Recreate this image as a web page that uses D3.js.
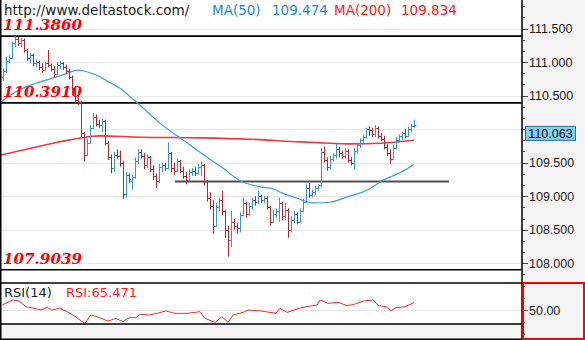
<!DOCTYPE html>
<html>
<head>
<meta charset="utf-8">
<script src="https://cdn.jsdelivr.net/npm/d3@7"></script>
<style>
  html, body { margin: 0; padding: 0; background: #fff; }
  svg { display: block; }
</style>
</head>
<body>
<svg id="chart" width="585" height="340"></svg>
<script>
// ---- daily OHLC bars ----
const opens = [110.78,110.86,111.02,111.06,111.28,111.34,111.28,111.33,111.18,111.06,
  111.10,110.98,111.00,110.92,110.88,110.98,110.96,110.90,110.82,110.96,
  110.98,110.92,110.86,110.78,110.62,110.44,110.40,109.94,109.62,109.80,
  110.02,110.18,110.08,110.06,110.12,109.80,109.58,109.42,109.62,109.60,
  109.50,109.04,109.32,109.22,109.28,109.52,109.66,109.60,109.46,109.58,
  109.40,109.30,109.22,109.44,109.46,109.42,109.64,109.42,109.38,109.52,
  109.38,109.30,109.24,109.36,109.38,109.34,109.44,109.46,109.22,108.98,
  108.86,108.56,108.84,108.94,108.78,108.50,108.34,108.62,108.56,108.52,
  108.72,108.90,108.74,108.86,108.94,108.92,109.00,108.94,108.98,108.84,
  108.62,108.74,108.78,108.90,108.70,108.80,108.50,108.64,108.74,108.62,
  108.78,108.92,109.12,109.02,109.06,109.12,109.16,109.66,109.54,109.44,
  109.56,109.62,109.70,109.64,109.60,109.68,109.54,109.50,109.68,109.76,
  109.84,109.88,110.00,109.98,109.92,110.02,109.90,109.86,109.74,109.64,
  109.56,109.72,109.84,109.90,109.94,109.90,110.00,110.04];
const highs = [110.90,111.08,111.10,111.30,111.386,111.38,111.36,111.35,111.20,111.14,
  111.12,111.04,111.02,110.98,111.00,111.18,110.98,110.94,111.00,111.02,
  111.00,110.96,110.90,110.80,110.64,110.52,110.42,109.96,109.86,110.06,
  110.24,110.22,110.14,110.16,110.14,109.82,109.62,109.66,109.70,109.68,
  109.52,109.36,109.34,109.32,109.58,109.70,109.70,109.64,109.62,109.60,
  109.46,109.34,109.48,109.50,109.50,109.80,109.66,109.50,109.56,109.54,
  109.44,109.36,109.40,109.42,109.44,109.48,109.52,109.48,109.24,109.06,
  108.94,108.90,108.98,109.08,108.80,108.56,108.78,108.66,108.60,108.76,
  108.98,108.92,108.90,108.98,109.00,109.08,109.02,109.00,109.00,108.86,
  108.80,108.82,108.98,108.92,108.90,108.82,108.70,108.78,108.76,108.82,
  108.96,109.18,109.20,109.10,109.16,109.18,109.72,109.74,109.58,109.60,
  109.64,109.78,109.74,109.68,109.72,109.70,109.58,109.72,109.80,109.86,
  109.92,110.02,110.04,110.02,110.06,110.04,109.94,109.90,109.78,109.70,
  109.76,109.88,109.92,109.96,110.00,110.04,110.08,110.14];
const lows = [110.72,110.84,110.98,111.04,111.22,111.24,111.22,111.14,111.02,110.98,
  110.94,110.92,110.88,110.84,110.86,110.92,110.86,110.76,110.80,110.90,
  110.88,110.82,110.74,110.58,110.38,110.36,109.88,109.52,109.60,109.78,
  110.00,110.04,110.02,109.96,109.76,109.54,109.34,109.36,109.56,109.44,
  108.96,108.98,109.20,109.10,109.26,109.48,109.56,109.40,109.42,109.36,
  109.24,109.12,109.20,109.36,109.38,109.40,109.36,109.32,109.36,109.34,
  109.26,109.18,109.22,109.30,109.30,109.32,109.30,109.16,108.92,108.80,
  108.44,108.54,108.78,108.72,108.38,108.10,108.24,108.50,108.44,108.46,
  108.70,108.68,108.70,108.80,108.86,108.88,108.90,108.90,108.80,108.56,
  108.60,108.68,108.62,108.64,108.64,108.38,108.46,108.60,108.58,108.60,
  108.76,108.90,108.98,108.98,109.02,109.08,109.14,109.50,109.38,109.40,
  109.52,109.56,109.58,109.56,109.56,109.50,109.46,109.40,109.64,109.72,
  109.80,109.86,109.90,109.88,109.88,109.86,109.82,109.70,109.60,109.48,
  109.54,109.70,109.80,109.84,109.86,109.88,109.96,110.02];
const closes = [110.86,111.02,111.06,111.28,111.34,111.28,111.33,111.18,111.06,111.10,
  110.98,111.00,110.92,110.88,110.98,110.96,110.90,110.82,110.96,110.98,
  110.92,110.86,110.78,110.62,110.44,110.40,109.94,109.62,109.80,110.02,
  110.18,110.08,110.06,110.12,109.80,109.58,109.42,109.62,109.60,109.50,
  109.04,109.32,109.26,109.28,109.52,109.66,109.60,109.46,109.58,109.40,
  109.30,109.22,109.44,109.46,109.42,109.64,109.42,109.38,109.52,109.38,
  109.30,109.24,109.36,109.38,109.34,109.44,109.46,109.22,108.98,108.86,
  108.56,108.84,108.94,108.78,108.50,108.34,108.62,108.56,108.52,108.72,
  108.90,108.74,108.86,108.94,108.92,109.00,108.94,108.98,108.84,108.62,
  108.74,108.78,108.90,108.70,108.80,108.50,108.64,108.74,108.62,108.78,
  108.92,109.12,109.02,109.06,109.12,109.16,109.66,109.54,109.44,109.56,
  109.62,109.70,109.64,109.60,109.68,109.54,109.50,109.68,109.76,109.84,
  109.88,110.00,109.98,109.92,110.02,109.90,109.86,109.74,109.64,109.56,
  109.72,109.84,109.90,109.94,109.90,110.00,110.04,110.063];

// ---- moving averages (bar index, value) ----
const ma50Index = [-1, 2.3, 5.7, 10.7, 15.7, 20.7, 25, 29, 32.3, 35.7, 39, 43.3, 47.3, 52.3,
  60, 68, 73.3, 79, 85.7, 90, 93, 98, 103.3, 109, 114.7, 121.3, 126.7, 132.3, 137];
const ma50Value = [110.39, 110.50, 110.59, 110.68, 110.75, 110.82, 110.88, 110.84, 110.78, 110.69,
  110.61, 110.45, 110.29, 110.09, 109.84, 109.58, 109.42, 109.23, 109.14, 109.11,
  109.05, 108.97, 108.90, 108.91, 108.99, 109.09, 109.24, 109.35, 109.474];
const ma200Index = [-1, 10.7, 22.3, 32.3, 45.7, 65.7, 82.3, 99, 109, 115.7, 125.7, 137];
const ma200Value = [109.61, 109.73, 109.84, 109.90, 109.88, 109.87, 109.85, 109.81, 109.79, 109.78, 109.79, 109.834];

// ---- RSI(14) (bar index, value) ----
const rsiIndex = [-0.3, 3.3, 5.3, 7.7, 10.3, 12.7, 14.7, 16.3, 19, 21.3, 23.3, 25.7, 27.3, 29.3,
  31.3, 35, 37.7, 40, 42, 44.3, 45.7, 48.7, 51.3, 54.3, 57.3, 61.3, 65.7, 67.3, 70.7, 73, 75,
  76.7, 80, 81.7, 86, 91, 92.3, 94.7, 98.7, 101, 104.7, 105.7, 108.3, 111.7, 114.7, 117,
  120.3, 123.3, 125.3, 127.7, 129.3, 131, 134, 137];
const rsiValue = [60.4, 70.8, 68.8, 56.9, 53.5, 50, 55.6, 50, 54, 46.5, 39.6, 29, 22.2, 39.6,
  36, 27, 32.6, 25.7, 34, 34, 41, 39.6, 43, 48, 43, 43, 46.5, 32.6, 24.3, 36, 24.3,
  39.6, 45, 50, 48, 43, 53.5, 45, 53.5, 56.9, 60.4, 70.8, 63.9, 66, 59, 61.9,
  68.8, 70.8, 59, 56.9, 48.5, 54.8, 56.9, 65.471];

// ---- levels and labels ----
const levels = [111.3860, 110.3910, 107.9039];
const supportLevel = 109.22;
const supportFrom = 57.3, supportTo = 148.7;
const priceTicks = [108.0, 108.5, 109.0, 109.5, 110.0, 110.5, 111.0, 111.5];
const rsiTicks = [50];
const siteText = "http://www.deltastock.com/";
const ma50Text = ["MA(50)", "109.474"];
const ma200Text = ["MA(200)", "109.834"];
const rsiTitle = ["RSI(14)", "RSI:65.471"];
const lastPrice = 110.063;

// ---- layout ----
const W = 585, H = 340;
const plotR = 522;
const priceTop = 0, priceBot = 283;
const rsiTop = 283, rsiBot = 324;

const UP = "#3597d3", DOWN = "#b3272d";
const MA50C = "#3a9ed8", MA200C = "#e8262c";
const FONT = "'DejaVu Sans', Verdana, sans-serif";
const AXFONT = "'Liberation Sans', Arial, sans-serif";

const svg = d3.select("#chart");

const x = d3.scaleLinear().domain([0, closes.length - 1]).range([3, 414]);
const y = d3.scaleLinear().domain([108, 111.5]).range([263.3, 28.5]);
const yR = d3.scaleLinear().domain([0, 100]).range([334, 286]);

// backgrounds
svg.append("rect").attr("x", 0).attr("y", 0).attr("width", W).attr("height", H).attr("fill", "#fff");
svg.append("rect").attr("x", plotR).attr("y", 0).attr("width", W - plotR).attr("height", H).attr("fill", "#f3f3f3");
svg.append("rect").attr("x", 0).attr("y", rsiBot).attr("width", plotR).attr("height", H - rsiBot).attr("fill", "#f3f3f3");

// price grid
svg.append("clipPath").attr("id", "pclip")
  .append("rect").attr("x", 0).attr("y", priceTop).attr("width", plotR).attr("height", priceBot - priceTop);
const pg = svg.append("g").attr("clip-path", "url(#pclip)");
pg.selectAll("line.grid").data(priceTicks).join("line")
  .attr("x1", 0).attr("x2", plotR)
  .attr("y1", d => Math.round(y(d)) + 0.5).attr("y2", d => Math.round(y(d)) + 0.5)
  .attr("stroke", "#e6e6e6").attr("stroke-width", 1);

// horizontal level lines
pg.selectAll("line.level").data(levels).join("line")
  .attr("x1", 0).attr("x2", plotR)
  .attr("y1", d => y(d)).attr("y2", d => y(d))
  .attr("stroke", "#000").attr("stroke-width", 1.6);

// support segment
pg.append("line")
  .attr("x1", x(supportFrom)).attr("x2", x(supportTo))
  .attr("y1", y(supportLevel)).attr("y2", y(supportLevel))
  .attr("stroke", "#3c3c3c").attr("stroke-width", 2).attr("opacity", 0.9);

// MA200
const lineGen = d3.line().curve(d3.curveMonotoneX);
pg.append("path")
  .attr("d", lineGen(ma200Index.map((d, i) => [x(d), y(ma200Value[i])])))
  .attr("fill", "none").attr("stroke", MA200C).attr("stroke-width", 1.6).attr("opacity", 0.9);

// MA50
pg.append("path")
  .attr("d", lineGen(ma50Index.map((d, i) => [x(d), y(ma50Value[i])])))
  .attr("fill", "none").attr("stroke", MA50C).attr("stroke-width", 1.2);

// OHLC bars
const bars = pg.append("g");
closes.forEach((c, i) => {
  const o = opens[i], col = c >= o ? UP : DOWN;
  const cx = Math.round(x(i)) + 0.5;
  const g = bars.append("g").attr("stroke", col).attr("stroke-width", 1);
  g.append("line").attr("x1", cx).attr("x2", cx).attr("y1", y(highs[i])).attr("y2", y(lows[i]));
  g.append("line").attr("x1", cx - 2).attr("x2", cx).attr("y1", Math.round(y(o)) + 0.5).attr("y2", Math.round(y(o)) + 0.5);
  g.append("line").attr("x1", cx).attr("x2", cx + 2).attr("y1", Math.round(y(c)) + 0.5).attr("y2", Math.round(y(c)) + 0.5);
});

// level labels
svg.selectAll("text.lvl").data(levels).join("text")
  .attr("x", 3).attr("y", d => y(d) - 6)
  .attr("fill", "#ff0000")
  .attr("font-family", "'DejaVu Serif', 'Liberation Serif', serif")
  .attr("font-weight", "bold").attr("font-style", "italic")
  .attr("font-size", 14)
  .attr("textLength", 79).attr("lengthAdjust", "spacingAndGlyphs")
  .text(d => d.toFixed(4));

// header legend
const hdr = svg.append("g").attr("font-family", FONT).attr("font-size", 13.5);
hdr.append("text").attr("x", 4).attr("y", 15).attr("fill", "#1a1a1a").text(siteText);
hdr.append("text").attr("x", 212).attr("y", 15).attr("fill", "#1f88cf").text(ma50Text[0]);
hdr.append("text").attr("x", 272).attr("y", 15).attr("fill", "#1f88cf").text(ma50Text[1]);
hdr.append("text").attr("x", 334).attr("y", 15).attr("fill", "#ff1a1a").text(ma200Text[0]);
hdr.append("text").attr("x", 401).attr("y", 15).attr("fill", "#ff1a1a").text(ma200Text[1]);

// price axis (the label under the last-price marker stays hidden)
const ax = svg.append("g");
const minor = d3.range(107.5, 112.01, 0.5 / 3);
ax.selectAll("line.minor").data(minor.filter(v => y(v) > priceTop && y(v) < priceBot)).join("line")
  .attr("x1", plotR).attr("x2", plotR + 3)
  .attr("y1", d => Math.round(y(d)) + 0.5).attr("y2", d => Math.round(y(d)) + 0.5)
  .attr("stroke", "#666");
ax.selectAll("line.major").data(priceTicks).join("line")
  .attr("x1", plotR).attr("x2", plotR + 6)
  .attr("y1", d => Math.round(y(d)) + 0.5).attr("y2", d => Math.round(y(d)) + 0.5)
  .attr("stroke", "#444");
const visibleTicks = priceTicks.filter(d => Math.abs(y(d) - (y(lastPrice) + 8)) > 12);
ax.selectAll("text").data(visibleTicks).join("text")
  .attr("x", plotR + 7).attr("y", d => y(d) + 4.5)
  .attr("font-family", AXFONT).attr("font-size", 12.5).attr("fill", "#1a1a1a")
  .text(d => d.toFixed(3));

// last price marker
const lp = svg.append("g");
lp.append("rect").attr("x", 525.5).attr("y", y(lastPrice) + 1.5).attr("width", 50).attr("height", 14)
  .attr("fill", "#87cdee").attr("stroke", "#2c6f96").attr("stroke-width", 1);
lp.append("text").attr("x", 550.5).attr("y", y(lastPrice) + 13)
  .attr("text-anchor", "middle")
  .attr("font-family", AXFONT).attr("font-size", 12.5).attr("fill", "#111")
  .text(lastPrice.toFixed(3));

// RSI panel
svg.append("clipPath").attr("id", "rclip")
  .append("rect").attr("x", 0).attr("y", rsiTop).attr("width", plotR).attr("height", rsiBot - rsiTop);
const rg = svg.append("g").attr("clip-path", "url(#rclip)");
rg.selectAll("line").data(rsiTicks).join("line")
  .attr("x1", 0).attr("x2", plotR)
  .attr("y1", d => Math.round(yR(d)) + 0.5).attr("y2", d => Math.round(yR(d)) + 0.5)
  .attr("stroke", "#e4e4e4");
rg.append("path")
  .attr("d", d3.line()(rsiIndex.map((d, i) => [x(d), yR(rsiValue[i])])))
  .attr("fill", "none").attr("stroke", "#f03030").attr("stroke-width", 1);

const rt = svg.append("g").attr("font-family", FONT).attr("font-size", 13);
rt.append("text").attr("x", 4).attr("y", 297).attr("fill", "#1a1a1a").text(rsiTitle[0]);
rt.append("text").attr("x", 66).attr("y", 297).attr("fill", "#ff1a1a").text(rsiTitle[1]);

// RSI axis
const rsiMinor = [100, 75, 25, 0];
svg.selectAll("line.rminor").data(rsiMinor).join("line")
  .attr("x1", plotR).attr("x2", plotR + 3)
  .attr("y1", d => Math.round(yR(d)) + 0.5).attr("y2", d => Math.round(yR(d)) + 0.5)
  .attr("stroke", "#666");
svg.selectAll("line.rmajor").data(rsiTicks).join("line")
  .attr("x1", plotR).attr("x2", plotR + 6)
  .attr("y1", d => Math.round(yR(d)) + 0.5).attr("y2", d => Math.round(yR(d)) + 0.5)
  .attr("stroke", "#444");
svg.selectAll("text.rlab").data(rsiTicks).join("text")
  .attr("x", plotR + 7).attr("y", d => yR(d) + 4.5)
  .attr("font-family", AXFONT).attr("font-size", 12.5).attr("fill", "#1a1a1a")
  .text(d => d.toFixed(2));

// panel frames
const fr = svg.append("g").attr("stroke", "#000").attr("stroke-width", 1.5).attr("fill", "none");
fr.append("line").attr("x1", 0.75).attr("x2", 0.75).attr("y1", 0).attr("y2", H);
fr.append("line").attr("x1", plotR).attr("x2", plotR).attr("y1", 0).attr("y2", H);
fr.append("line").attr("x1", 0).attr("x2", plotR).attr("y1", rsiTop).attr("y2", rsiTop);
fr.append("line").attr("x1", 0).attr("x2", plotR).attr("y1", rsiBot).attr("y2", rsiBot);
fr.append("line").attr("x1", 0).attr("x2", W).attr("y1", H - 0.75).attr("y2", H - 0.75);

// highlighted RSI scale box
svg.append("rect").attr("x", plotR + 1).attr("y", rsiTop).attr("width", W - plotR - 2).attr("height", H - rsiTop - 1)
  .attr("fill", "none").attr("stroke", "#ff0000").attr("stroke-width", 2);
</script>
</body>
</html>
